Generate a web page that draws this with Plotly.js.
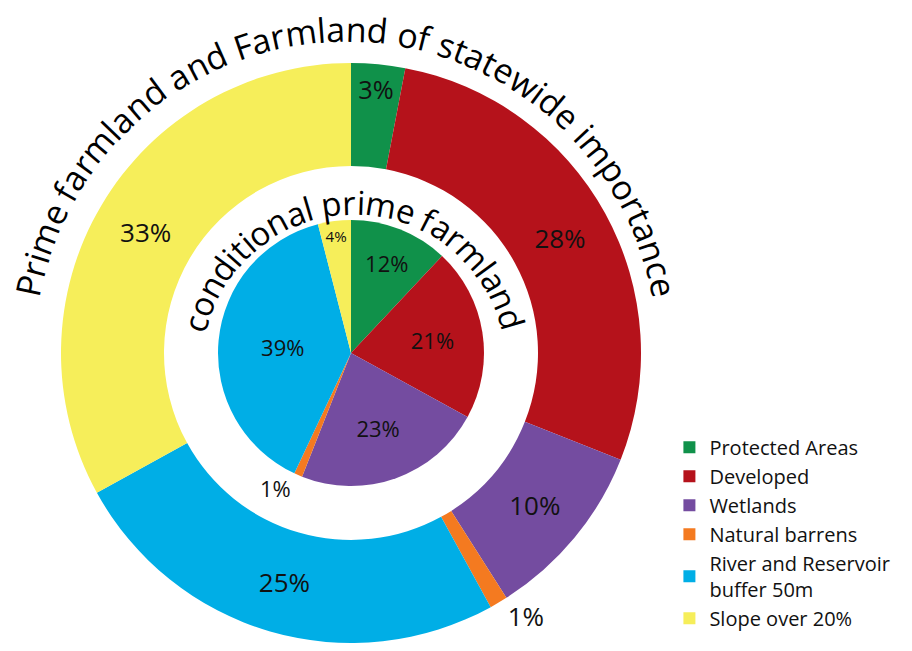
<!DOCTYPE html>
<html><head><meta charset="utf-8">
<script src="https://cdn.plot.ly/plotly-3.0.1.min.js"></script>
<style>html,body{margin:0;padding:0;background:#fff}#chart{width:912px;height:651px}</style>
</head><body><div id="chart"></div>
<script>
// ---- data ----
const categories = ['Protected Areas', 'Developed', 'Wetlands', 'Natural barrens', 'River and Reservoir<br>buffer 50m', 'Slope over 20%'];
const outerValues = [3, 28, 10, 1, 25, 33];   // Prime farmland and Farmland of statewide importance
const innerValues = [12, 21, 23, 1, 39, 4];   // conditional prime farmland
const colors = ['#10914a', '#b5121b', '#744ca0', '#f47a20', '#00aee6', '#f6ee5a'];
const outerTitle = 'Prime farmland and Farmland of statewide importance';
const innerTitle = 'conditional prime farmland';

// ---- geometry (pixels) ----
const W = 912, H = 651;
const FONT = 'Open Sans';
const cx = 351, cy = 353;
const outerR = 290, holeR = 187, innerR = 133;

function domainFor(r) {
  return { x: [(cx - r) / W, (cx + r) / W], y: [1 - (cy + r) / H, 1 - (cy - r) / H] };
}

// text set along a circular arc, one annotation per character
function arcText(str, acx, acy, rBase, fs, startDeg, endDeg) {
  const ctx = document.createElement('canvas').getContext('2d');
  ctx.font = fs + 'px "' + FONT + '"';
  const total = ctx.measureText(str).width;
  const spanArc = (endDeg - startDeg) * Math.PI / 180 * rBase;
  const k = spanArc / total;
  const centerRad = (startDeg + endDeg) / 2 * Math.PI / 180;
  const rc = rBase + 0.39 * fs;
  const anns = [];
  for (let i = 0; i < str.length; i++) {
    const ch = str[i];
    if (ch === ' ') continue;
    const a = ctx.measureText(str.slice(0, i)).width;
    const b = ctx.measureText(str.slice(0, i + 1)).width;
    const off = ((a + b) / 2 - total / 2) * k;
    const th = centerRad + off / rBase;
    const px = acx + rc * Math.sin(th), py = acy - rc * Math.cos(th);
    anns.push({
      xref: 'paper', yref: 'paper', x: px / W, y: 1 - py / H,
      xanchor: 'center', yanchor: 'middle', showarrow: false,
      text: ch, textangle: th * 180 / Math.PI,
      font: { family: FONT, size: fs, color: '#000' }
    });
  }
  return anns;
}

const outerTrace = {
  type: 'pie', labels: categories, values: outerValues, sort: false,
  direction: 'clockwise', rotation: 0, hole: holeR / outerR,
  domain: domainFor(outerR),
  marker: { colors: colors, line: { width: 0 } },
  texttemplate: '%{value}%',
  textposition: outerValues.map(v => v < 2 ? 'outside' : 'inside'),
  insidetextorientation: 'horizontal',
  textfont: { family: FONT, size: 26, color: '#111' },
  hoverinfo: 'label+value', showlegend: true
};
const innerTrace = {
  type: 'pie', labels: categories, values: innerValues, sort: false,
  direction: 'clockwise', rotation: 0,
  domain: domainFor(innerR),
  marker: { colors: colors, line: { width: 0 } },
  texttemplate: '%{value}%',
  textposition: innerValues.map(v => v < 2 ? 'outside' : 'inside'),
  insidetextorientation: 'horizontal',
  textfont: { family: FONT, size: 22, color: '#111' },
  hoverinfo: 'label+value', showlegend: false
};

const annotations = []
  .concat(arcText(outerTitle, 346, 353, 311, 34, -80, 80))
  .concat(arcText(innerTitle, 354, 366, 151, 33, -78, 77));

const layout = {
  width: W, height: H,
  margin: { l: 0, r: 0, t: 0, b: 0 },
  paper_bgcolor: '#fff',
  showlegend: true,
  legend: {
    x: 0.734, y: 0.343, xanchor: 'left', yanchor: 'top',
    font: { family: FONT, size: 20, color: '#111' },
    bgcolor: 'rgba(0,0,0,0)', traceorder: 'normal'
  },
  annotations: annotations
};

Plotly.newPlot('chart', [outerTrace, innerTrace], layout, { displayModeBar: false, staticPlot: true });
</script>
</body></html>
